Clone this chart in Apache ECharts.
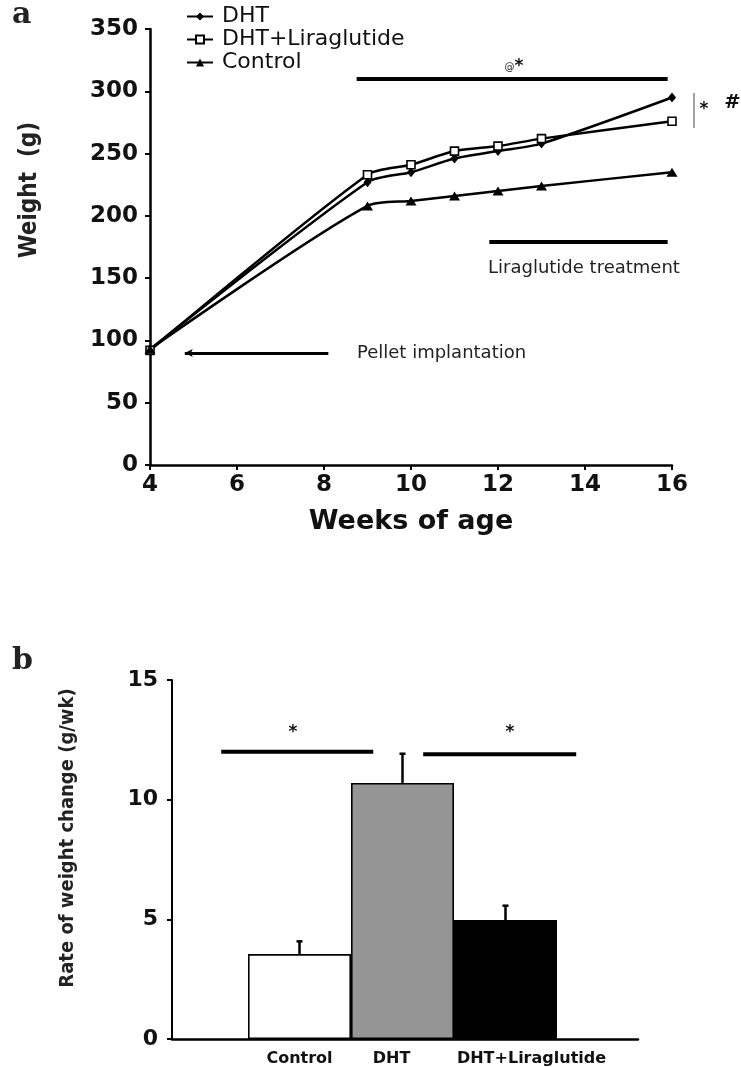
<!DOCTYPE html>
<html><head><meta charset="utf-8">
<script src="https://cdn.jsdelivr.net/npm/echarts@6/dist/echarts.min.js"></script>
<style>html,body{margin:0;padding:0;background:#fff}#c{width:741px;height:1067px}</style>
</head><body><div id="c"></div>
<script>
// ---- Panel a data ----
const weeks = [4, 9, 10, 11, 12, 13, 16];
const dhtWeight = [93, 227, 235, 246, 252, 258, 295];
const dhtLiraWeight = [92, 233, 241, 252, 256, 262, 276];
const controlWeight = [93, 208, 212, 216, 220, 224, 235];
const seriesNames = ['DHT', 'DHT+Liraglutide', 'Control'];
// ---- Panel b data ----
const groups = ['Control', 'DHT', 'DHT+Liraglutide'];
const rates = [3.55, 10.7, 4.97];
const rateErr = [0.53, 1.22, 0.6];
const barColors = ['#ffffff', '#959595', '#000000'];

const pair = (xs, ys) => xs.map((x, i) => [x, ys[i]]);
const tickFont = 'DejaVu Sans';
const condFont = "'DejaVu Sans Condensed', 'DejaVu Sans'";

const chart = echarts.init(document.getElementById('c'), null, {renderer: 'canvas'});

const axisLineStyle = {color: '#000', width: 2.5};
const lineBase = {
  type: 'line', xAxisIndex: 0, yAxisIndex: 0, smooth: 0.25, clip: false,
  lineStyle: {color: '#000', width: 2.5}, itemStyle: {color: '#000'},
  emphasis: {disabled: true}, silent: true
};

const option = {
  animation: false,
  backgroundColor: '#fff',
  legend: {
    data: seriesNames, orient: 'vertical', left: 181, top: 0,
    itemWidth: 26, itemHeight: 10, itemGap: 0,
    textStyle: {fontFamily: tickFont, fontSize: 22, color: '#111', lineHeight: 23, padding: [0, 0, 0, 4]},
    selectedMode: false
  },
  grid: [
    {left: 150, top: 29, width: 522, height: 436},
    {left: 172, top: 680, width: 466, height: 359},
    {left: 248, top: 680, width: 309, height: 359}
  ],
  xAxis: [
    {gridIndex: 0, type: 'value', min: 4, max: 16, interval: 2,
     axisLine: {onZero: false, lineStyle: axisLineStyle}, axisTick: {show: true, length: 5, lineStyle: {width: 2, color: '#000'}},
     axisLabel: {fontFamily: tickFont, fontWeight: 'bold', fontSize: 23, color: '#111', margin: 9},
     splitLine: {show: false},
     name: 'Weeks of age', nameLocation: 'middle', nameGap: 43,
     nameTextStyle: {fontFamily: tickFont, fontWeight: 'bold', fontSize: 27, color: '#111'}},
    {gridIndex: 1, type: 'value', min: -1.245, max: 3.28,
     axisLine: {onZero: false, lineStyle: axisLineStyle}, axisTick: {show: false}, axisLabel: {show: false}, splitLine: {show: false}},
    {gridIndex: 2, type: 'category', data: groups,
     axisLine: {show: false}, axisTick: {show: false},
     axisLabel: {interval: 0, margin: 12, color: '#111',
       formatter: (v, i) => ['{c|' + v + '}', '{d|' + v + '}', '{l|' + v + '}'][i],
       rich: {
         c: {fontFamily: tickFont, fontWeight: 'bold', fontSize: 16, color: '#111'},
         d: {fontFamily: tickFont, fontWeight: 'bold', fontSize: 16, color: '#111', padding: [0, 22, 0, 0]},
         l: {fontFamily: tickFont, fontWeight: 'bold', fontSize: 16, color: '#111', padding: [0, 0, 8, 52]}
       }}}
  ],
  yAxis: [
    {gridIndex: 0, type: 'value', min: 0, max: 350, interval: 50,
     axisLine: {show: true, onZero: false, lineStyle: axisLineStyle}, axisTick: {show: true, length: 5, lineStyle: {width: 2, color: '#000'}},
     axisLabel: {fontFamily: tickFont, fontWeight: 'bold', fontSize: 23, color: '#111', margin: 12},
     splitLine: {show: false}},
    {gridIndex: 1, type: 'value', min: 0, max: 15, interval: 5,
     axisLine: {show: true, onZero: false, lineStyle: {color: '#000', width: 2}}, axisTick: {show: true, length: 5, lineStyle: {width: 2, color: '#000'}},
     axisLabel: {fontFamily: tickFont, fontWeight: 'bold', fontSize: 22, color: '#111', margin: 14},
     splitLine: {show: false}},
    {gridIndex: 2, type: 'value', min: 0, max: 15, show: false}
  ],
  series: [
    Object.assign({}, lineBase, {
      name: 'DHT', data: pair(weeks, dhtWeight), symbol: 'diamond', symbolSize: [8, 10],
      markLine: {
        silent: true, symbol: ['none', 'none'], label: {show: false},
        lineStyle: {color: '#000', width: 4, type: 'solid'},
        emphasis: {disabled: true},
        data: [
          [{coord: [8.75, 310]}, {coord: [15.9, 310]}],
          [{coord: [11.8, 179]}, {coord: [15.9, 179]}],
          [{coord: [8.1, 90], symbol: 'none', lineStyle: {width: 3}}, {coord: [4.8, 90], symbol: 'arrow', symbolSize: [6, 8], lineStyle: {width: 3}}]
        ]
      }
    }),
    Object.assign({}, lineBase, {
      name: 'DHT+Liraglutide', data: pair(weeks, dhtLiraWeight), symbol: 'rect', symbolSize: 8,
      itemStyle: {color: '#fff', borderColor: '#000', borderWidth: 1.6}
    }),
    Object.assign({}, lineBase, {
      name: 'Control', data: pair(weeks, controlWeight), symbol: 'triangle', symbolSize: [11, 9]
    }),
    {
      type: 'bar', xAxisIndex: 2, yAxisIndex: 2, barWidth: '100%', barCategoryGap: 0,
      data: rates.map((v, i) => ({value: v, itemStyle: {color: barColors[i]}})),
      itemStyle: {borderColor: '#000', borderWidth: 1.6},
      emphasis: {disabled: true}, silent: true, z: 2
    },
    {
      type: 'custom', xAxisIndex: 2, yAxisIndex: 2, z: 3, silent: true,
      data: rates.map((v, i) => [i, v, rateErr[i]]),
      renderItem: (params, api) => {
        const base = api.coord([api.value(0), api.value(1)]);
        const top = api.coord([api.value(0), api.value(1) + api.value(2)]);
        return {type: 'group', children: [
          {type: 'line', shape: {x1: base[0], y1: base[1], x2: top[0], y2: top[1]}, style: {stroke: '#000', lineWidth: 2.5}},
          {type: 'line', shape: {x1: top[0] - 3, y1: top[1], x2: top[0] + 3, y2: top[1]}, style: {stroke: '#000', lineWidth: 2.5}}
        ]};
      }
    },
    {
      type: 'line', xAxisIndex: 1, yAxisIndex: 1, silent: true, symbol: 'none', connectNulls: false,
      lineStyle: {color: '#000', width: 4}, emphasis: {disabled: true},
      data: [[-0.767, 12.0], [0.709, 12.0], '-', [1.194, 11.9], [2.68, 11.9]]
    }
  ],
  graphic: [
    {type: 'text', left: 12, top: 0, style: {text: 'a', font: "bold 30px 'DejaVu Serif'", fill: '#222'}},
    {type: 'text', left: 12, top: 646, style: {text: 'b', font: "bold 30px 'DejaVu Serif'", fill: '#222'}},
    {type: 'text', x: 30, y: 190, rotation: Math.PI / 2,
     style: {text: 'Weight  (g)', font: "bold 24px " + condFont, fill: '#222', align: 'center', verticalAlign: 'middle'}},
    {type: 'text', x: 68, y: 838, rotation: Math.PI / 2,
     style: {text: 'Rate of weight change (g/wk)', font: "bold 20px " + condFont, fill: '#222', align: 'center', verticalAlign: 'middle'}},
    {type: 'text', x: 514, y: 67, style: {text: '{s|@}{b|*}', align: 'center', verticalAlign: 'middle',
      rich: {s: {fontSize: 10, fontFamily: tickFont, fill: '#222'}, b: {fontSize: 17, fontWeight: 'bold', fontFamily: tickFont, fill: '#111'}}}},
    {type: 'text', x: 488, y: 268, style: {text: 'Liraglutide treatment', font: "18px 'DejaVu Sans'", fill: '#222', verticalAlign: 'middle'}},
    {type: 'text', x: 357, y: 353, style: {text: 'Pellet implantation', font: "18px 'DejaVu Sans'", fill: '#222', verticalAlign: 'middle'}},
    {type: 'line', shape: {x1: 694, y1: 93, x2: 694, y2: 128}, style: {stroke: '#444', lineWidth: 1}},
    {type: 'text', x: 704, y: 110, style: {text: '*', font: "bold 17px 'DejaVu Sans'", fill: '#111', align: 'center', verticalAlign: 'middle'}},
    {type: 'text', x: 731, y: 103, style: {text: '#', font: "italic bold 20px 'DejaVu Sans'", fill: '#111', align: 'center', verticalAlign: 'middle'}},
    {type: 'text', x: 293, y: 733, style: {text: '*', font: "bold 17px 'DejaVu Sans'", fill: '#111', align: 'center', verticalAlign: 'middle'}},
    {type: 'text', x: 510, y: 733, style: {text: '*', font: "bold 17px 'DejaVu Sans'", fill: '#111', align: 'center', verticalAlign: 'middle'}}
  ]
};
chart.setOption(option);
</script></body></html>
